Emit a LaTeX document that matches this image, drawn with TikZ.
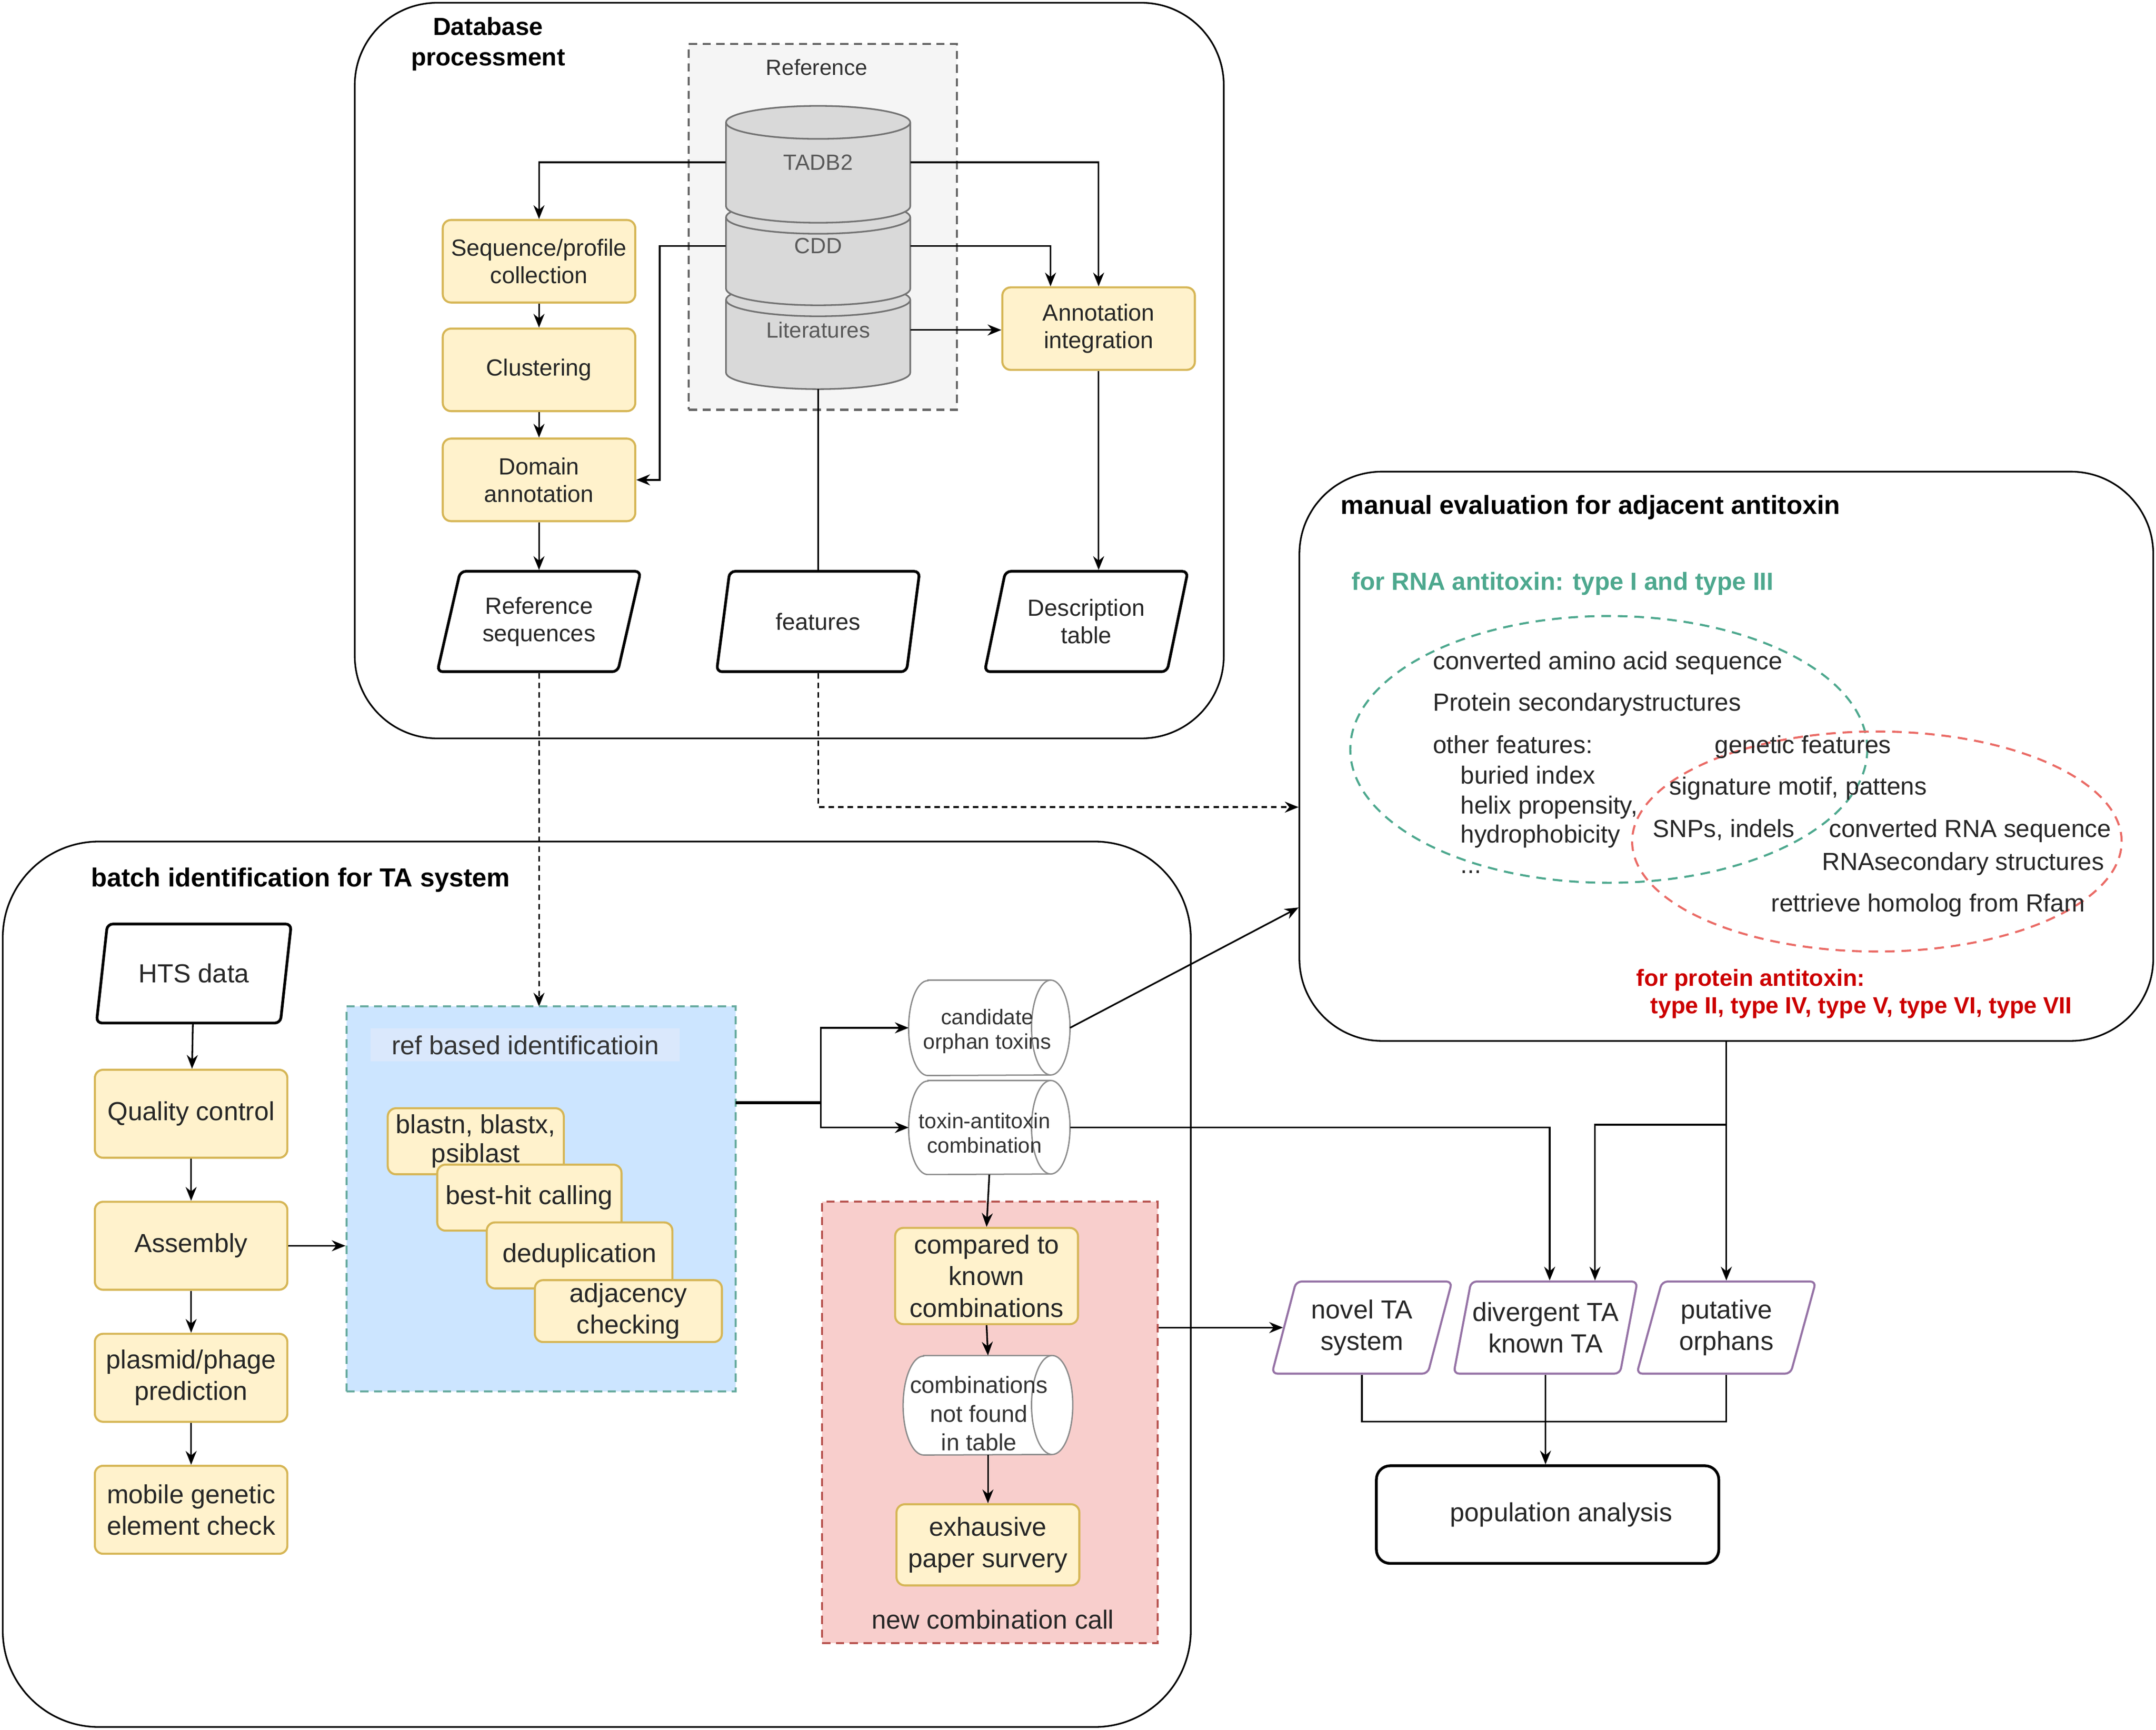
\documentclass[tikz,border=0pt]{standalone}
\usepackage{fontspec}
\setmainfont{Liberation Sans}
\usetikzlibrary{shapes.geometric,arrows.meta}
\definecolor{yfill}{HTML}{FFF2CC}
\definecolor{yline}{HTML}{D6B656}
\definecolor{refgray}{HTML}{F5F5F5}
\definecolor{cylgray}{HTML}{D9D9D9}
\definecolor{blufill}{HTML}{CCE5FF}
\definecolor{blulab}{HTML}{DAE8FC}
\definecolor{refteal}{HTML}{67AB9F}
\definecolor{tealtxt}{HTML}{4DA88E}
\definecolor{pinkfill}{HTML}{F8CECC}
\definecolor{redline}{HTML}{B85450}
\definecolor{redell}{HTML}{EA6B66}
\definecolor{redtxt}{HTML}{CC0000}
\definecolor{purp}{HTML}{9673A6}
\newcommand\dbdisk[2]{%
	\draw[dbcyl] (528,#1) -- (528,#2) arc[start angle=180,end angle=360,x radius=67pt,y radius=12pt] -- (662,#1) arc[start angle=0,end angle=180,x radius=67pt,y radius=12pt] -- cycle;
	\draw[dbcyl] (528,#1) arc[start angle=180,end angle=360,x radius=67pt,y radius=12pt];}
\newcommand\hcyl[3]{%
	\draw[hcyl] ([xshift=#2]#1.north west) -- ([xshift=-#2]#1.north east) arc[start angle=90,end angle=-90,x radius=#2,y radius=#3] -- ([xshift=#2]#1.south west) arc[start angle=270,end angle=90,x radius=#2,y radius=#3] -- cycle;
	\draw[hcyl] ([xshift=-#2]#1.north east) arc[start angle=90,end angle=270,x radius=#2,y radius=#3];}
\begin{document}
\begin{tikzpicture}[x=1pt,y=-1pt,
	f16/.style={font=\fontsize{16}{19}\selectfont},
	f17/.style={font=\fontsize{17}{20}\selectfont},
	f18/.style={font=\fontsize{18}{22}\selectfont},
	f19/.style={font=\fontsize{19}{23}\selectfont},
	arr/.style={-{Stealth[length=10pt,width=8pt]}, line width=1.2pt},
	ln/.style={line width=1.2pt},
	dsh/.style={dash pattern=on 6pt off 4pt, line width=1.5pt},
	bigbox/.style={draw, line width=1.2pt, rounded corners=60pt, inner sep=0pt},
	dbcyl/.style={draw=black!55, fill=cylgray, line width=1.2pt},
	hcyl/.style={draw=black!45, fill=white, line width=1pt},
	ybox/.style={draw=yline, fill=yfill, line width=1.5pt, rounded corners=6pt, align=center, inner sep=1pt, text=black!85, minimum width=140pt, minimum height=60pt, f17},
	bbox/.style={ybox, minimum height=64pt, f19},
	para/.style={trapezium, trapezium left angle=72, trapezium right angle=108, trapezium stretches=true, draw, line width=2pt, rounded corners=4pt, align=center, inner sep=1pt, text=black!85, minimum width=148pt, minimum height=73pt, f17},
	ppara/.style={para, draw=purp, line width=1.5pt, minimum width=131pt, minimum height=67pt, f19},
	cylbox/.style={inner sep=0pt, minimum width=117pt, minimum height=69pt},
	cyltxt/.style={align=center, inner sep=0pt, text=black!80, font=\fontsize{15.5}{18}\selectfont},
	txt/.style={anchor=base west, inner sep=0pt, text=black!85, f18}
	]

	\useasboundingbox (0,0) rectangle (1568,1258);

	\node[bigbox, minimum width=632pt, minimum height=535pt] (db) at (574,269.5) {};
	\node[bigbox, minimum width=621pt, minimum height=414pt] (manual) at (1255.5,550) {};
	\node[bigbox, rounded corners=70pt, minimum width=864pt, minimum height=644pt] (batch) at (434,934) {};

	\node[align=center, inner sep=0pt, font=\fontsize{18}{22}\selectfont\bfseries] (dbtitle) at (355,32) {Database\\processment};
	\node[draw=black!60, dsh, fill=refgray, minimum width=195pt, minimum height=266pt] (refzone) at (598.5,165) {};
	\node[f16, text=black!80] (reflabel) at (594,49) {Reference};

	\dbdisk{218}{271}
	\dbdisk{158}{210}
	\dbdisk{89}{150}
	\node[f16, text=black!65, minimum width=134pt, inner sep=0pt] (tadb) at (595,118) {TADB2};
	\node[f16, text=black!65, minimum width=134pt, inner sep=0pt] (cdd) at (595,179) {CDD};
	\node[f16, text=black!65, minimum width=134pt, inner sep=0pt] (lit) at (595,240) {Literatures};
	\coordinate (dbbot) at (595,283);

	\node[ybox] (seq) at (392,190) {Sequence/profile\\collection};
	\node[ybox] (clu) at (392,269) {Clustering};
	\node[ybox] (dom) at (392,349) {Domain\\annotation};
	\node[ybox] (ann) at (799,239) {Annotation\\integration};

	\node[para] (refseq) at (392,452) {Reference\\sequences};
	\node[para] (feat) at (595,452) {features};
	\node[para] (desc) at (790,452) {Description\\table};

	\draw[arr] (tadb.west) -| (seq.north);
	\draw[arr] (tadb.east) -| (ann.north);
	\draw[arr] (cdd.west) -- ++(-48,0) |- (dom.east);
	\draw[arr] (cdd.east) -| ([xshift=-35pt]ann.north);
	\draw[arr] (lit.east) -- (lit.east -| ann.west);
	\draw[arr] (seq) -- (clu);
	\draw[arr] (clu) -- (dom);
	\draw[arr] (dom) -- (refseq);
	\draw[ln] (dbbot) -- (feat.north);
	\draw[arr] (ann.south) -- (ann.south |- desc.north);

	\draw[dashed, draw=tealtxt, line width=1.5pt, dash pattern=on 7pt off 5pt] (1170,545) ellipse[x radius=188pt, y radius=97pt];
	\draw[dashed, draw=redell, line width=1.5pt, dash pattern=on 7pt off 5pt] (1365,612) ellipse[x radius=178pt, y radius=80pt];
	\node[anchor=base west, inner sep=0pt, font=\fontsize{19}{23}\selectfont\bfseries] (mantitle) at (975,374) {manual evaluation for adjacent antitoxin};
	\node[anchor=base west, inner sep=0pt, text=tealtxt, font=\fontsize{18}{22}\selectfont\bfseries] (rnatitle) at (983,429) {for RNA antitoxin: type I and type III};
	\node[txt] (aaseq) at (1042,487) {converted amino acid sequence};
	\node[txt] (protss) at (1042,517) {Protein secondarystructures};
	\node[txt] (other) at (1042,548) {other features:};
	\node[txt] (buried) at (1062,570) {buried index};
	\node[txt] (helix) at (1062,592) {helix propensity,};
	\node[txt] (hydro) at (1062,613) {hydrophobicity};
	\node[txt] (dots) at (1062,635) {...};
	\node[txt] (genet) at (1247,548) {genetic features};
	\node[txt] (motif) at (1214,578) {signature motif, pattens};
	\node[txt] (snps) at (1202,609) {SNPs, indels};
	\node[txt] (rnaseq) at (1330,609) {converted RNA sequence};
	\node[txt] (rnass) at (1325,633) {RNAsecondary structures};
	\node[txt] (rfam) at (1288,663) {rettrieve homolog from Rfam};
	\node[anchor=base west, inner sep=0pt, text=redtxt, font=\fontsize{17}{20}\selectfont\bfseries] (protA) at (1190,717) {for protein antitoxin:};
	\node[anchor=base west, inner sep=0pt, text=redtxt, font=\fontsize{17}{20}\selectfont\bfseries] (protB) at (1200,737) {type II, type IV, type V, type VI, type VII};

	\draw[arr, dash pattern=on 4pt off 3pt] (refseq.south) -- (refseq.south |- 0,732);
	\draw[arr, dash pattern=on 4pt off 3pt] (feat.south) |- (manual.west |- 0,587);

	\node[anchor=base west, inner sep=0pt, font=\fontsize{19}{23}\selectfont\bfseries] (battitle) at (66,645) {batch identification for TA system};

	\node[para, minimum width=143pt, minimum height=72pt, f19] (hts) at (141,708) {HTS data};
	\node[bbox] (qc) at (139,810) {Quality control};
	\node[bbox] (asm) at (139,906) {Assembly};
	\node[bbox] (plas) at (139,1002) {plasmid/phage\\prediction};
	\node[bbox] (mge) at (139,1098) {mobile genetic\\element check};
	\draw[arr] (hts) -- (qc);
	\draw[arr] (qc) -- (asm);
	\draw[arr] (asm) -- (plas);
	\draw[arr] (plas) -- (mge);

	\node[draw=refteal, dsh, fill=blufill, minimum width=283pt, minimum height=280pt, inner sep=0pt] (refbox) at (393.5,872) {};
	\node[fill=blulab, minimum width=225pt, minimum height=24pt, inner sep=0pt, text=black!80, f19] (reflbl) at (382,760) {ref based identificatioin};
	\draw[arr] (asm.east) -- (asm.east -| refbox.west);

	\node[bbox, minimum width=128pt, minimum height=48pt, font=\fontsize{19}{21}\selectfont] (blast) at (346,830) {blastn, blastx,\\psiblast};
	\node[bbox, minimum width=134pt, minimum height=48pt] (best) at (385,871) {best-hit calling};
	\node[bbox, minimum width=135pt, minimum height=48pt] (dedup) at (421.5,913) {deduplication};
	\node[bbox, minimum width=136pt, minimum height=45pt, font=\fontsize{19}{23}\selectfont] (adj) at (457,953.5) {adjacency\\checking};

	\node[cylbox] (cand) at (719.5,747.5) {};
	\hcyl{cand}{14pt}{34.5pt}
	\node[cyltxt] (candtxt) at (718,750) {candidate\\orphan toxins};
	\node[cylbox, minimum height=68pt] (tac) at (719.5,820) {};
	\hcyl{tac}{14pt}{34pt}
	\node[cyltxt] (tactxt) at (716,824) {toxin-antitoxin\\combination};
	\coordinate (refout) at (535,802);
	\coordinate (split) at (597,802);
	\draw[line width=2pt] (refout) -- (split);
	\draw[arr] (split) |- (cand.west);
	\draw[arr] (split) |- (tac.west);

	\node[draw=redline, dsh, fill=pinkfill, minimum width=244pt, minimum height=321pt, inner sep=0pt] (newc) at (720,1034.5) {};
	\node[f19, text=black!85] (newlbl) at (722,1178) {new combination call};
	\node[bbox, minimum width=133pt, minimum height=70pt] (cmp) at (717.5,928) {compared to\\known\\combinations};
	\node[cylbox, minimum width=123pt, minimum height=72pt] (notf) at (718.5,1022) {};
	\hcyl{notf}{15pt}{36pt}
	\node[cyltxt, font=\fontsize{17}{21}\selectfont] (notftxt) at (712,1028) {combinations\\not found\\in table};
	\node[bbox, minimum width=133pt, minimum height=59pt] (exh) at (718.5,1123.5) {exhausive\\paper survery};
	\draw[arr] (tac.south) -- (cmp.north);
	\draw[arr] (cmp.south) -- (notf.north);
	\draw[arr] (notf.south) -- (exh.north);

	\node[ppara] (novel) at (990.5,965.5) {novel TA\\system};
	\node[ppara] (div) at (1124,965.5) {divergent TA\\known TA};
	\node[ppara] (put) at (1255.5,965.5) {putative\\orphans};
	\node[draw, line width=2pt, rounded corners=10pt, minimum width=249pt, minimum height=71pt, text=black!85, f19] (pop) at (1125.5,1101.5) {\hspace*{20pt}population analysis};

	\draw[arr] (cand.east) -- (manual.west |- 0,660);
	\draw[arr] (tac.east) -| ([xshift=3pt]div.north);
	\draw[arr] (manual.south -| put.north) -- (put.north);
	\coordinate (mbr) at (1255.5,818);
	\draw[arr] (mbr) -| ([xshift=36pt]div.north);
	\draw[arr] (newc.east |- novel.west) -- (novel.west);
	\draw[ln] (novel.south) -- ++(0,34) -| (put.south);
	\draw[arr] (div.south) -- (div.south |- pop.north);

\end{tikzpicture}
\end{document}
